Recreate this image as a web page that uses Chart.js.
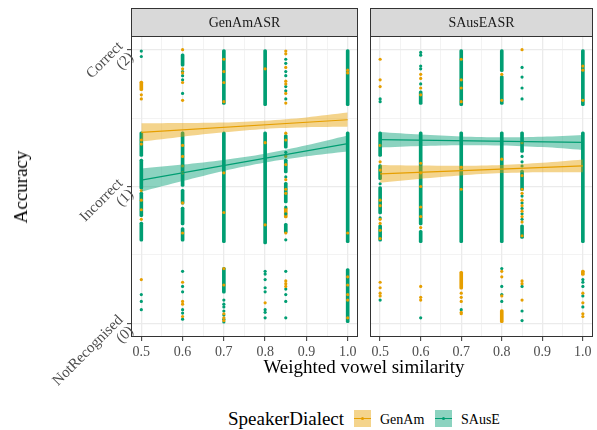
<!DOCTYPE html>
<html>
<head>
<meta charset="utf-8">
<script src="https://cdn.jsdelivr.net/npm/chart.js@4.4.1/dist/chart.umd.min.js"></script>
<style>
  body { margin: 0; width: 597px; height: 430px; background: #fff; position: relative; overflow: hidden; font-family: "Liberation Serif", serif; }
  canvas { position: absolute; top: 0; }
  #xtitle { position: absolute; left: 131px; width: 466px; top: 356px; text-align: center; font-size: 19px; color: #000; }
  #ytitle { position: absolute; left: 21px; top: 187px; transform: translate(-50%, -50%) rotate(-90deg); font-size: 19px; color: #000; white-space: nowrap; }
  .lt { position: absolute; top: 408px; font-size: 19px; color: #000; }
  .lk { position: absolute; top: 410px; width: 17px; height: 17px; }
  .lk i { position: absolute; left: 0; right: 0; top: 8px; height: 1px; }
  .lk b { position: absolute; left: 7px; top: 7px; width: 3px; height: 3px; border-radius: 50%; }
  .ll { position: absolute; top: 412px; font-size: 14px; color: #000; }
</style>
</head>
<body>
<canvas id="left" width="362" height="400" style="left:0"></canvas>
<canvas id="right" width="231" height="362" style="left:366px"></canvas>
<div id="xtitle">Weighted vowel similarity</div>
<div id="ytitle">Accuracy</div>
<div class="lt" style="left:228px">SpeakerDialect</div>
<div id="legend"></div>

<script>
// facets, groups, axis ticks
const panels = ['GenAmASR', 'SAusEASR'];
const dialects = ['GenAm', 'SAusE'];
const xMajor = [0.5, 0.6, 0.7, 0.8, 0.9, 1.0];
const xMinor = [0.55, 0.65, 0.75, 0.85, 0.95];
const yMajor = [0, 1, 2];
const yMinor = [0.5, 1.5];
const yLabels = [['NotRecognised', '(0)'], ['Incorrect', '(1)'], ['Correct', '(2)']];

// jittered responses; dense stacks written as [x, from, to], the rest as [x, [y...]]
const genAsrSausRuns = [
  [0.5, 1.22, 1.40], [0.5, 0.98, 1.20], [0.5, 0.78, 0.96], [0.5, 0.60, 0.74],
  [0.6, 1.88, 1.97], [0.6, 1.00, 1.40], [0.6, 0.87, 0.98], [0.6, 0.72, 0.85], [0.6, 0.60, 0.70],
  [0.7, 1.60, 2.00], [0.7, 0.59, 1.40], [0.7, 0.22, 0.41],
  [0.8, 1.59, 2.00], [0.8, 0.58, 1.40],
  [0.85, 1.28, 1.38], [0.85, 1.10, 1.20], [0.85, 0.88, 1.03], [0.85, 0.66, 0.73],
  [1.0, 1.59, 2.00], [1.0, 0.59, 1.40], [1.0, 0.00, 0.40]
];
const genAsrSausPts = [
  [0.5, [1.99, 1.95, 0.21, 0.16, 0.10]],
  [0.6, [1.84, 1.81, 1.78, 1.68, 0.38, 0.27, 0.23, 0.10, 0.075, 0.03]],
  [0.7, [0.17, 0.14, 0.12, 0.09, 0.06, 0.03, 0.01]],
  [0.8, [0.38, 0.36, 0.32, 0.26, 0.23, 0.10, 0.08, 0.04]],
  [0.85, [1.93, 1.90, 1.84, 1.81, 1.73, 1.70, 1.64, 1.25, 1.23, 1.07, 0.85, 0.80, 0.61, 0.38, 0.25, 0.21, 0.16, 0.04]]
];
const genAsrGenRuns = [
  [0.5, 1.70, 1.77], [0.85, 0.77, 0.85]
];
const genAsrGenPts = [
  [0.5, [1.67, 1.64, 1.34, 1.31, 0.97, 0.90, 0.83, 0.76, 0.32]],
  [0.6, [2.00, 1.86, 1.83, 1.76, 1.63, 1.30, 1.22, 1.15, 1.10, 0.88, 0.66, 0.30, 0.16, 0.14, 0.05]],
  [0.7, [1.93, 1.84, 1.76, 1.62, 1.10, 0.81, 0.40, 0.28, 0.07, 0.04, 0.02]],
  [0.8, [1.86, 1.32, 0.72, 0.15]],
  [0.85, [1.99, 1.97, 1.87, 1.77, 1.75, 1.68, 1.61, 1.39, 1.34, 1.22, 1.16, 1.05, 0.98, 0.95, 0.66, 0.31, 0.29, 0.27]],
  [1.0, [1.85, 1.83, 0.66, 0.34, 0.28, 0.21, 0.17, 0.04]]
];

const sausAsrSausRuns = [
  [0.5, 1.22, 1.40], [0.5, 1.05, 1.16], [0.5, 0.80, 1.00], [0.5, 0.60, 0.72],
  [0.6, 1.60, 1.70], [0.6, 0.72, 1.40], [0.6, 0.59, 0.68],
  [0.7, 1.59, 2.00], [0.7, 0.59, 1.40],
  [0.8, 1.84, 2.00], [0.8, 1.60, 1.81], [0.8, 0.59, 1.40],
  [0.85, 1.25, 1.40], [0.85, 0.97, 1.12], [0.85, 0.62, 0.72],
  [1.0, 1.59, 2.00], [1.0, 0.59, 1.40]
];
const sausAsrSausPts = [
  [0.5, [1.64, 1.62, 1.02, 0.77, 0.17]],
  [0.6, [1.98, 1.96, 1.88, 1.86, 1.75, 0.04]],
  [0.7, [0.10]],
  [0.8, [0.40, 0.27, 0.21, 0.16]],
  [0.85, [1.87, 1.80, 1.72, 1.64, 1.22, 1.18, 1.15, 0.93, 0.88, 0.84, 0.80, 0.76, 0.27, 0.09, 0.02]],
  [1.0, [0.32, 0.30, 0.27, 0.20, 0.12]]
];
const sausAsrGenRuns = [
  [0.7, 0.25, 0.38], [0.8, 0.00, 0.10], [1.0, 0.35, 0.39]
];
const sausAsrGenPts = [
  [0.5, [1.93, 1.78, 1.73, 1.30, 1.18, 1.12, 0.90, 0.86, 0.76, 0.73, 0.68, 0.62, 0.30, 0.26, 0.22, 0.20]],
  [0.6, [1.82, 1.79, 1.72, 1.67, 1.17, 1.10, 1.00, 0.85, 0.78, 0.70, 0.27, 0.19, 0.17]],
  [0.7, [1.93, 1.78, 1.72, 1.62, 1.14, 0.98, 0.22, 0.19, 0.16, 0.08, 0.07]],
  [0.8, [1.82, 1.63, 1.20, 0.38, 0.34, 0.20]],
  [0.85, [2.00, 1.32, 1.08, 0.98, 0.95, 0.90, 0.86, 0.82, 0.78, 0.74, 0.64, 0.31, 0.29, 0.17]],
  [1.0, [1.88, 1.85, 1.63, 0.22, 0.15, 0.07, 0.05]]
];

// linear fits with confidence bands
const fitX = [0.5, 1.0];
const bandX = [0.5, 0.6, 0.7, 0.8, 0.9, 1.0];
const genAsrGenFit = [1.395, 1.488];
const genAsrGenLow = [1.328, 1.364, 1.396, 1.421, 1.433, 1.436];
const genAsrGenHigh = [1.462, 1.464, 1.468, 1.481, 1.505, 1.540];
const genAsrSausFit = [1.047, 1.314];
const genAsrSausLow = [0.962, 1.040, 1.114, 1.175, 1.221, 1.256];
const genAsrSausHigh = [1.132, 1.160, 1.194, 1.239, 1.301, 1.372];
const sausAsrGenFit = [1.093, 1.151];
const sausAsrGenLow = [1.028, 1.057, 1.081, 1.098, 1.104, 1.104];
const sausAsrGenHigh = [1.158, 1.153, 1.151, 1.158, 1.174, 1.198];
const sausAsrSausFit = [1.342, 1.322];
const sausAsrSausLow = [1.285, 1.296, 1.302, 1.300, 1.288, 1.267];
const sausAsrSausHigh = [1.399, 1.380, 1.366, 1.360, 1.364, 1.377];

const colors = { GenAm: '#E69F00', SAusE: '#009E73' };
const fills = { GenAm: 'rgba(230,159,0,0.45)', SAusE: 'rgba(0,158,115,0.45)' };
const serif = '"Liberation Serif", serif';

function flatPts(list) {
  const out = [];
  list.forEach(p => p[1].forEach(y => out.push({ x: p[0], y: y })));
  return out;
}

function groupSets(name, runs, pts, fit, low, high, depth) {
  return [
    { type: 'bar', data: runs.map(r => ({ x: r[0], y: [r[1], r[2]] })), backgroundColor: colors[name],
      barThickness: 3, grouped: false, borderRadius: 1.5, borderSkipped: false, order: 10 + depth },
    { type: 'scatter', data: flatPts(pts), pointRadius: 1.6, pointBorderWidth: 0,
      pointBackgroundColor: colors[name], order: 8 + depth },
    { type: 'line', data: bandX.map((x, i) => ({ x: x, y: low[i] })), borderColor: 'transparent', borderWidth: 0,
      pointRadius: 0, fill: false, tension: 0.3, order: 2 },
    { type: 'line', data: bandX.map((x, i) => ({ x: x, y: high[i] })), borderColor: 'transparent', borderWidth: 0,
      pointRadius: 0, fill: '-1', backgroundColor: fills[name], tension: 0.3, order: 2 },
    { type: 'line', data: fitX.map((x, i) => ({ x: x, y: fit[i] })), borderColor: colors[name], borderWidth: 1.2,
      pointRadius: 0, fill: false, order: 1 }
  ];
}

const isMajor = v => Math.abs(v * 10 - Math.round(v * 10)) < 1e-6;
const isWhole = v => Math.abs(v - Math.round(v)) < 1e-6;

const panelDeco = {
  id: 'panelDeco',
  afterDraw(chart, args, opts) {
    const { ctx, chartArea: a } = chart;
    ctx.save();
    // strip
    ctx.fillStyle = '#D9D9D9';
    ctx.fillRect(a.left, 8, a.right - a.left, a.top - 8);
    ctx.strokeStyle = '#333333';
    ctx.lineWidth = 1;
    ctx.strokeRect(a.left + 0.5, 8.5, a.right - a.left - 1, a.top - 8);
    ctx.fillStyle = '#1A1A1A';
    ctx.font = '14px ' + serif;
    ctx.textAlign = 'center';
    ctx.textBaseline = 'middle';
    ctx.fillText(opts.title, (a.left + a.right) / 2, (8 + a.top) / 2 + 1);
    // panel border
    ctx.strokeRect(a.left + 0.5, a.top + 0.5, a.right - a.left - 1, a.bottom - a.top - 1);
    // rotated y labels
    if (opts.yLabels) {
      const ys = chart.scales.y;
      ctx.fillStyle = '#4D4D4D';
      ctx.font = '15px ' + serif;
      ctx.textAlign = 'right';
      yMajor.forEach((v, i) => {
        ctx.save();
        ctx.translate(a.left - 5, ys.getPixelForValue(v));
        ctx.rotate(-Math.PI / 4);
        ctx.fillText(yLabels[i][0], 0, -7.5);
        ctx.fillText(yLabels[i][1], 0, 7.5);
        ctx.restore();
      });
    }
    ctx.restore();
  }
};

function makePanel(id, title, sets, first) {
  new Chart(document.getElementById(id), {
    type: 'scatter',
    data: { datasets: sets },
    plugins: [panelDeco],
    options: {
      responsive: false,
      animation: false,
      layout: { padding: { top: 36, right: first ? 2 : 1, left: 0, bottom: 0 } },
      plugins: { legend: { display: false }, tooltip: { enabled: false }, panelDeco: { title: title, yLabels: first } },
      scales: {
        x: {
          type: 'linear', min: 0.475, max: 1.025, offset: false,
          afterBuildTicks: s => { s.ticks = xMajor.concat(xMinor).sort((p, q) => p - q).map(v => ({ value: v })); },
          afterFit: s => { s.height = first ? 63 : 25; },
          border: { display: false },
          grid: {
            offset: false, drawTicks: true, tickLength: 4,
            color: '#EBEBEB',
            lineWidth: c => isMajor(c.tick.value) ? 1.3 : 0.6,
            tickColor: c => isMajor(c.tick.value) ? '#333333' : 'rgba(0,0,0,0)',
            tickWidth: 1
          },
          ticks: {
            autoSkip: false, maxRotation: 0, padding: 3, color: '#4D4D4D',
            font: { family: serif, size: 14 },
            callback: v => isMajor(v) ? v.toFixed(1) : ''
          }
        },
        y: {
          type: 'linear', min: -0.1, max: 2.1,
          afterBuildTicks: s => { s.ticks = yMajor.concat(yMinor).sort((p, q) => p - q).map(v => ({ value: v })); },
          afterFit: s => { s.width = first ? 131 : 3; },
          border: { display: false },
          grid: {
            drawTicks: first, tickLength: 4,
            color: '#EBEBEB',
            lineWidth: c => isWhole(c.tick.value) ? 1.3 : 0.6,
            tickColor: c => isWhole(c.tick.value) ? '#333333' : 'rgba(0,0,0,0)',
            tickWidth: 1
          },
          ticks: { display: false }
        }
      }
    }
  });
}

makePanel('left', panels[0],
  groupSets('SAusE', genAsrSausRuns, genAsrSausPts, genAsrSausFit, genAsrSausLow, genAsrSausHigh, 1)
    .concat(groupSets('GenAm', genAsrGenRuns, genAsrGenPts, genAsrGenFit, genAsrGenLow, genAsrGenHigh, 0)), true);
makePanel('right', panels[1],
  groupSets('SAusE', sausAsrSausRuns, sausAsrSausPts, sausAsrSausFit, sausAsrSausLow, sausAsrSausHigh, 1)
    .concat(groupSets('GenAm', sausAsrGenRuns, sausAsrGenPts, sausAsrGenFit, sausAsrGenLow, sausAsrGenHigh, 0)), false);

// legend
const legend = document.getElementById('legend');
const keyLeft = [354, 435];
dialects.forEach((d, i) => {
  const k = document.createElement('div');
  k.className = 'lk';
  k.style.left = keyLeft[i] + 'px';
  k.style.background = fills[d];
  k.innerHTML = '<i style="background:' + colors[d] + '"></i><b style="background:' + colors[d] + '"></b>';
  legend.appendChild(k);
  const t = document.createElement('div');
  t.className = 'll';
  t.style.left = (keyLeft[i] + 26) + 'px';
  t.textContent = d;
  legend.appendChild(t);
});
</script>
</body>
</html>
